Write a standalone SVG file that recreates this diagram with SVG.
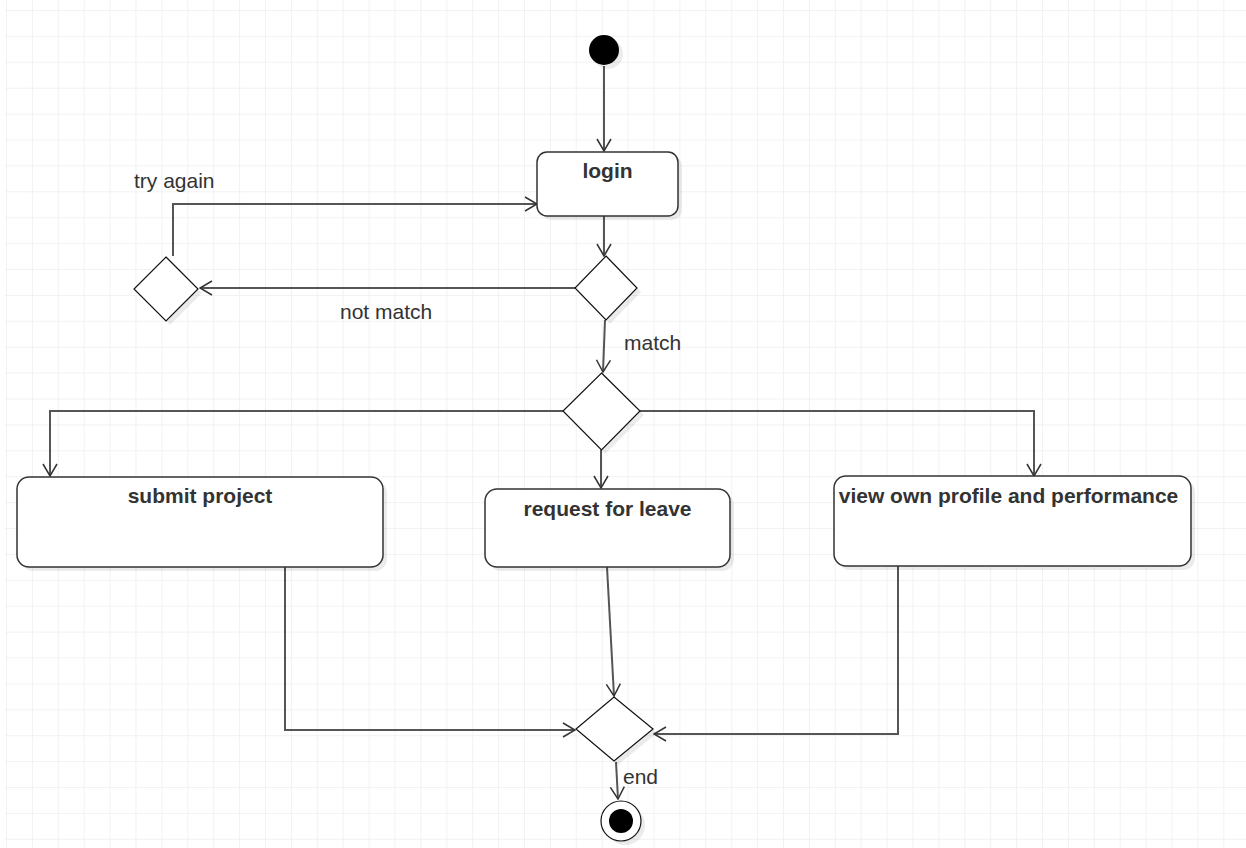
<svg xmlns="http://www.w3.org/2000/svg" width="1246" height="848" viewBox="0 0 1246 848">
<style>
.box{fill:#fff;stroke:#333;stroke-width:1.5}
.dia{fill:#fff;stroke:#111;stroke-width:1.2}
.sh{fill:#000;opacity:0.08}
.edge{fill:none;stroke:#555;stroke-width:2}
.lbl{font-family:"Liberation Sans",Arial,sans-serif;font-size:21px;fill:#333}
.t{font-family:"Liberation Sans",Arial,sans-serif;font-size:21px;font-weight:bold;fill:#333;text-anchor:middle}
</style>
<defs>
<pattern id="grid" patternUnits="userSpaceOnUse" x="6" y="10" width="25.9" height="25.9">
<path d="M0 0H25.9M0 0V25.9" fill="none" stroke="#eeeeee" stroke-width="1.5"/>
</pattern>
<marker id="arr" markerUnits="userSpaceOnUse" viewBox="0 0 14 16" refX="13" refY="8" markerWidth="14" markerHeight="16" orient="auto">
<path d="M1 1L13 8L1 15" fill="none" stroke="#333" stroke-width="1.5"/>
</marker>
</defs>
<rect width="1246" height="848" fill="#fff"/>
<rect x="5" y="0" width="1241" height="848" fill="url(#grid)"/>

<g id="connectors">
<path class="edge" d="M604 66V151" marker-end="url(#arr)"/>
<path class="edge" d="M604 216V256" marker-end="url(#arr)"/>
<path class="edge" d="M575 288H200" marker-end="url(#arr)"/>
<path class="edge" d="M173 256V204H537" marker-end="url(#arr)"/>
<path class="edge" d="M605 320L603 372" marker-end="url(#arr)"/>
<path class="edge" d="M563 411H50V476" marker-end="url(#arr)"/>
<path class="edge" d="M640 411H1034V476" marker-end="url(#arr)"/>
<path class="edge" d="M601 450V488" marker-end="url(#arr)"/>
<path class="edge" d="M285 567V730H575" marker-end="url(#arr)"/>
<path class="edge" d="M607 567L614 696" marker-end="url(#arr)"/>
<path class="edge" d="M898 566V734H654" marker-end="url(#arr)"/>
<path class="edge" d="M616 762L618 799" marker-end="url(#arr)"/>
<text class="lbl" x="134" y="188">try again</text>
<text class="lbl" x="340" y="319">not match</text>
<text class="lbl" x="624" y="350">match</text>
<text class="lbl" x="623" y="784">end</text>
</g>

<g id="start">
<circle cx="608" cy="54" r="15" class="sh"/>
<circle cx="604" cy="50" r="15" fill="#000"/>
</g>

<g id="login">
<rect x="541" y="156" width="141" height="64" rx="10" class="sh"/>
<rect x="537" y="152" width="141" height="64" rx="10" class="box"/>
<text class="t" x="607.5" y="178">login</text>
</g>

<g id="check">
<path d="M610 260L641 292L610 324L579 292Z" class="sh"/>
<path d="M606 256L637 288L606 320L575 288Z" class="dia"/>
</g>

<g id="retry">
<path d="M170 261L202 293L170 325L138 293Z" class="sh"/>
<path d="M166 257L198 289L166 321L134 289Z" class="dia"/>
</g>

<g id="fork">
<path d="M605 377L644 415L605 454L567 415Z" class="sh"/>
<path d="M601.5 373L640 411L601.5 450L563 411Z" class="dia"/>
</g>

<g id="submit">
<rect x="21" y="481" width="366" height="90" rx="12" class="sh"/>
<rect x="17" y="477" width="366" height="90" rx="12" class="box"/>
<text class="t" x="200" y="503">submit project</text>
</g>

<g id="leave">
<rect x="489" y="493" width="245" height="78" rx="12" class="sh"/>
<rect x="485" y="489" width="245" height="78" rx="12" class="box"/>
<text class="t" x="607.5" y="516">request for leave</text>
</g>

<g id="profile">
<rect x="838" y="480" width="357" height="90" rx="12" class="sh"/>
<rect x="834" y="476" width="357" height="90" rx="12" class="box"/>
<text class="t" x="1008.5" y="503">view own profile and performance</text>
</g>

<g id="merge">
<path d="M618 701L657 733L618 765L580 733Z" class="sh"/>
<path d="M614 697L653 729L614 761L576 729Z" class="dia"/>
</g>

<g id="final">
<circle cx="625" cy="825" r="20" class="sh"/>
<circle cx="621" cy="821" r="20" fill="#fff" stroke="#111" stroke-width="1.2"/>
<circle cx="621" cy="821" r="12" fill="#000"/>
</g>
</svg>
